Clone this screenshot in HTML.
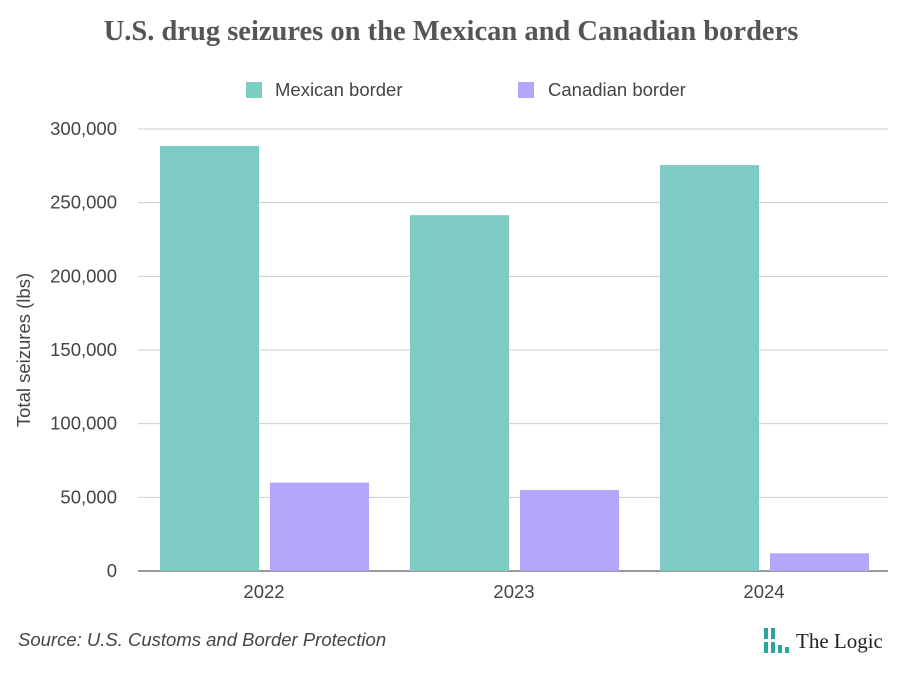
<!DOCTYPE html>
<html><head><meta charset="utf-8"><style>
body{margin:0;width:903px;height:674px;background:#fff;overflow:hidden;font-family:"Liberation Sans",sans-serif}
svg{display:block}
</style></head><body>
<svg id="c" width="903" height="674">
<text x="451" y="40" text-anchor="middle" font-family="Liberation Serif,serif" font-weight="bold" font-size="28.5" fill="#555">U.S. drug seizures on the Mexican and Canadian borders</text>
<g>
<rect x="246" y="82" width="16" height="16" fill="#7dcbc2"/>
<text x="275" y="96" font-size="18.5" fill="#444">Mexican border</text>
<rect x="518" y="82" width="16" height="16" fill="#b3a6fb"/>
<text x="548" y="96" font-size="18.5" fill="#444">Canadian border</text>
</g>
<g id="grid"></g><g id="bars"></g><g id="axes"></g>
<text transform="translate(30,350) rotate(-90)" text-anchor="middle" font-size="18.5" fill="#444">Total seizures (lbs)</text>
<text x="18" y="646" font-size="18.5" font-style="italic" fill="#444">Source: U.S. Customs and Border Protection</text>
<g>
<rect x="764" y="628" width="4" height="11" fill="#2aa59a"/><rect x="764" y="642" width="4" height="11" fill="#2aa59a"/>
<rect x="771" y="628" width="4" height="11" fill="#2aa59a"/><rect x="771" y="642" width="4" height="11" fill="#2aa59a"/>
<rect x="778" y="645" width="4" height="8" fill="#2aa59a"/><rect x="785" y="647" width="4" height="6" fill="#2aa59a"/>
<text x="796" y="648" font-family="Liberation Serif,serif" font-size="21" fill="#222">The Logic</text>
</g>
</svg>
<script>
const categories=["2022","2023","2024"];
const mexican=[288500,241500,275500];
const canadian=[60000,55000,12000];
const yTicks=[0,50000,100000,150000,200000,250000,300000];
const NS="http://www.w3.org/2000/svg";
const x0=138,x1=888,yb=571,yt=129,ymax=300000;
const y=v=>yb-(v/ymax)*(yb-yt);
const bw=(x1-x0)/categories.length;
function mk(t,a,p){const e=document.createElementNS(NS,t);for(const k in a)e.setAttribute(k,a[k]);p.appendChild(e);return e;}
const g=document.getElementById('grid'),b=document.getElementById('bars'),ax=document.getElementById('axes');
yTicks.forEach(v=>{
 const l=mk('line',{x1:x0,x2:x1,y1:y(v),y2:y(v),stroke:v===0?'#333':'#ccc','stroke-width':1},g);
 
 
 const t=mk('text',{x:117,y:y(v)+6,'text-anchor':'end','font-size':18.5,fill:'#444'},ax);
 t.textContent=v.toLocaleString('en-US');
 
 
});
categories.forEach((c,i)=>{
 const cx=x0+bw*i+bw/2+1;
 const r1=mk('rect',{x:cx-104,y:y(mexican[i]),width:99,height:yb-y(mexican[i]),fill:'#7dcbc2'},b);
 
 
 const r2=mk('rect',{x:cx+6,y:y(canadian[i]),width:99,height:yb-y(canadian[i]),fill:'#b3a6fb'},b);
 
 
 const t=mk('text',{x:cx,y:598,'text-anchor':'middle','font-size':18.5,fill:'#444'},ax);
 t.textContent=c;
 
 
});
</script>
</body></html>
